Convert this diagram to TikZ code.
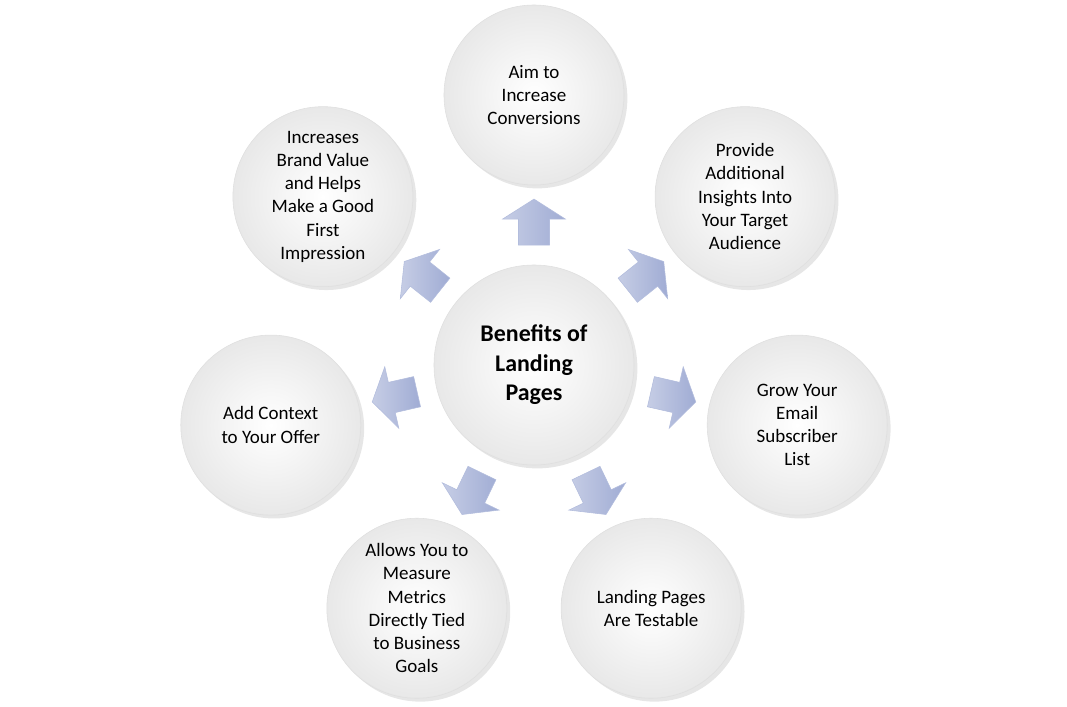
\documentclass[tikz,border=0pt]{standalone}
\usepackage{fontspec}
\setmainfont{Carlito}
\usetikzlibrary{shapes.arrows,shadows}
\definecolor{arrowblue}{RGB}{160,172,212}
\tikzstyle{bubble}=[circle, draw=gray!25, shading=radial, inner color=white, outer color=gray!18, drop shadow={opacity=0.2}, minimum size=4.5cm, align=center, font=\fontsize{13.5}{16.5}\selectfont]
\tikzstyle{hub}=[bubble, minimum size=5cm, font=\fontsize{17}{21}\selectfont\bfseries]
\tikzstyle{pointer}=[single arrow, draw=arrowblue!80, left color=arrowblue!60, right color=arrowblue, inner xsep=0pt, inner ysep=0.38cm, single arrow head extend=0.4cm, single arrow tip angle=115, minimum height=1.15cm]

\begin{document}
\begin{tikzpicture}[x=0.025cm, y=0.025cm]
    \useasboundingbox (-534,-341) rectangle (533,365);
    \node[hub] (hub) at (0,0) {Benefits of\\Landing\\Pages};
    \foreach \i/\txt in {0/{Aim to\\Increase\\Conversions},
        1/{Provide\\Additional\\Insights Into\\Your Target\\Audience},
        2/{Grow Your\\Email\\Subscriber\\List},
        3/{Landing Pages\\Are Testable},
        4/{Allows You to\\Measure\\Metrics\\Directly Tied\\to Business\\Goals},
        5/{Add Context\\to Your Offer},
        6/{Increases\\Brand Value\\and Helps\\Make a Good\\First\\Impression}} {
      \pgfmathsetmacro{\ang}{90-\i*360/7}
      \node[bubble] (c\i) at (\ang:270) {\txt};
      \node[pointer, rotate=\ang] (a\i) at (\ang:138) {};
    }
\end{tikzpicture}
\end{document}
